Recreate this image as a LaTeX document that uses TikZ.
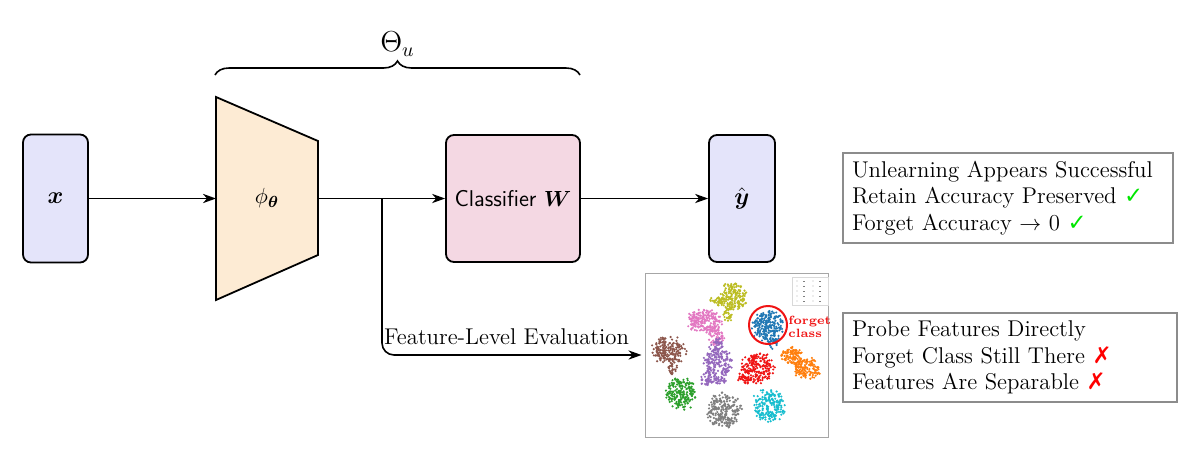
\documentclass[tikz,border=0pt]{standalone}
\usepackage{fontspec}
\usepackage{amsmath}
\newfontfamily\symfont{DejaVu Sans}
\usetikzlibrary{arrows.meta,decorations.pathreplacing,calc}
\definecolor{lav}{RGB}{228,228,250}
\definecolor{peach}{RGB}{253,235,212}
\definecolor{pinkc}{RGB}{244,216,227}
\definecolor{tyel}{RGB}{188,189,34}
\definecolor{tpink}{RGB}{227,119,194}
\definecolor{tpur}{RGB}{148,103,189}
\definecolor{tbrown}{RGB}{140,86,75}
\definecolor{tgreen}{RGB}{44,160,44}
\definecolor{tgray}{RGB}{127,127,127}
\definecolor{tred}{RGB}{240,20,20}
\definecolor{torange}{RGB}{255,127,14}
\definecolor{tblue}{RGB}{31,119,180}
\definecolor{tcyan}{RGB}{23,190,207}
\definecolor{okgreen}{RGB}{0,230,0}
\newcommand\tsneblob[6]{%
  \foreach \k in {1,...,#6}{%
    \pgfmathsetmacro\aa{360*rnd}%
    \pgfmathsetmacro\rr{1.12*sqrt(rnd)*(0.8+0.35*rnd)}%
    \fill[#1] ({#2+#4*\rr*cos(\aa)},{#3+#5*\rr*sin(\aa)}) circle[radius=0.6pt];
  }}
\newcommand\okmark{{\color{okgreen}\symfont ✓}}
\newcommand\badmark{{\color{red}\symfont\bfseries ✗}}
\begin{document}
\begin{tikzpicture}[x=0.5pt,y=-0.5pt,
  every node/.style={font=\fontsize{11.4}{13.3}\selectfont},
  blk/.style={draw=black, line width=0.9pt, rounded corners=4pt, inner sep=0pt},
  arr/.style={line width=0.8pt, -{Stealth[length=6.5pt,width=4.6pt,inset=2pt]}},
  infobox/.style={draw=black!45, line width=0.6pt, align=left, inner xsep=4.5pt, inner ysep=3pt}]
\useasboundingbox (0,0) rectangle (1200,467);

% input
\node[blk, fill=lav, minimum width=32.5pt, minimum height=64pt, font=\fontsize{13}{15}\selectfont] (x) at (55.5,198.5) {$\boldsymbol{x}$};
% encoder
\draw[line width=0.9pt, fill=peach, line join=miter] (216,97) -- (318,141) -- (318,255) -- (216,300) -- cycle;
\coordinate (phiL) at (216,198.5);
\coordinate (phiR) at (318,198.5);
\node (phi) at (267,198.5) {$\phi_{\boldsymbol{\theta}}$};
% classifier
\node[blk, fill=pinkc, minimum width=67pt, minimum height=63.5pt] (cls) at (513,198.5) {\sffamily Classifier $\boldsymbol{W}$};
% output
\node[blk, fill=lav, minimum width=33pt, minimum height=63.5pt, font=\fontsize{13}{15}\selectfont] (y) at (742,198.5) {$\hat{\boldsymbol{y}}$};

% arrows
\draw[arr] (x.east) -- (phiL);
\draw[arr] (phiR) -- (cls.west);
\draw[arr] (cls.east) -- (y.west);
\coordinate (br) at (382,198.5);

% brace
\draw[line width=0.8pt, decorate, decoration={brace, amplitude=7pt}] (215,75) -- (580,75)
  node[midway, above=9pt, inner sep=0pt, font=\fontsize{14}{16}\selectfont] (theta) {$\Theta_u$};

% t-SNE picture
\node[draw=black!35, line width=0.5pt, fill=white, minimum width=91.5pt, minimum height=82pt, inner sep=0pt] (tsne) at (736.5,355) {};
\draw[arr, rounded corners=6pt] (br) |- node[pos=0.74, above, inner sep=0pt, yshift=4.5pt] (fle) {Feature-Level Evaluation} ($(tsne.west)+(-3,0)$);

\begin{scope}
\pgfmathsetseed{7}
\tsneblob{tyel}{733}{296}{12}{12}{170}
\tsneblob{tyel}{718}{301}{7}{4}{35}
\tsneblob{tyel}{728}{314}{4}{7}{30}
\tsneblob{tpink}{705}{321}{15}{10}{200}
\tsneblob{tpink}{716}{336}{7}{8}{60}
\tsneblob{tpur}{718}{365}{12}{18}{220}
\tsneblob{tpur}{718}{343}{4}{6}{25}
\tsneblob{tpur}{706}{379}{5}{6}{30}
\tsneblob{tbrown}{669}{350}{15}{12}{190}
\tsneblob{tbrown}{673}{369}{4}{6}{25}
\tsneblob{tgreen}{681}{393}{13}{14}{200}
\tsneblob{tgray}{725}{410}{16}{15}{230}
\tsneblob{tred}{758}{368}{14}{13}{200}
\tsneblob{tred}{745}{378}{6}{5}{30}
\tsneblob{torange}{792}{356}{10}{8}{100}
\tsneblob{torange}{807}{368}{12}{9}{130}
\tsneblob{tblue}{768}{326}{14}{13}{220}
\tsneblob{tblue}{773}{343}{4}{5}{20}
\tsneblob{tcyan}{769}{406}{14}{15}{200}
\end{scope}
\draw[tred, line width=1pt] (768,325) circle[radius=9.5pt];
\node[anchor=west, text=tred, font=\fontsize{6}{6.3}\selectfont\bfseries, align=left, inner sep=0pt] (fc) at (788,327) {forget\\class};
% legend
\draw[black!15, line width=0.3pt, fill=white] (792,277) rectangle (828,305);
\foreach \yy in {281,286,291,296,301} {
  \fill[black!30] (797,\yy) circle[radius=0.3pt];
  \fill[black!50] (803,\yy) rectangle (805,\yy+1);
  \fill[black!30] (813,\yy) circle[radius=0.3pt];
  \fill[black!50] (819,\yy) rectangle (821,\yy+1);
}

% info boxes
\node[infobox, text width=156pt, minimum height=45pt] (ok) at (1008,198)
  {Unlearning Appears Successful\\Retain Accuracy Preserved \okmark\\Forget Accuracy $\rightarrow$ 0 \okmark};
\node[infobox, text width=158pt, minimum height=44.5pt] (bad) at (1010,357.5)
  {Probe Features Directly\\Forget Class Still There \badmark\\Features Are Separable \badmark};
\end{tikzpicture}
\end{document}
